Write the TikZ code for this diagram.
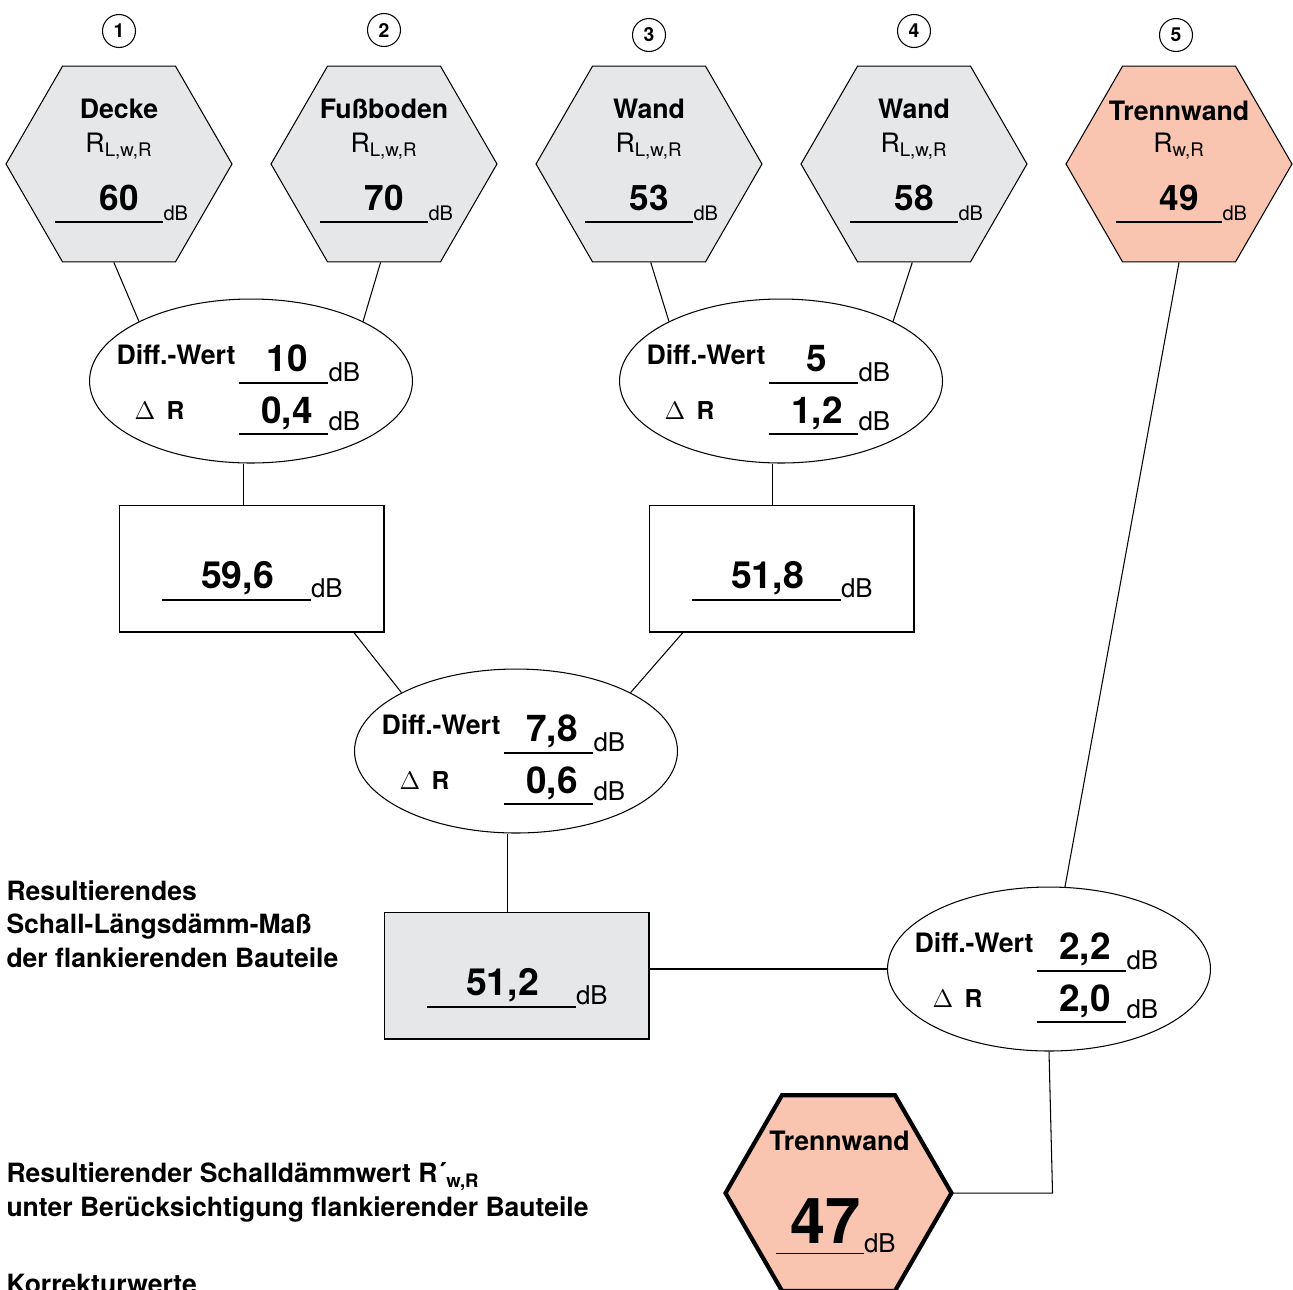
\documentclass[tikz,border=0pt]{standalone}
\usepackage{fontspec}
\setmainfont{TeX Gyre Heros}
\usetikzlibrary{shapes.geometric,calc}

\definecolor{hexgrau}{RGB}{230,231,232}
\definecolor{lachs}{RGB}{249,196,176}

\begin{document}
\begin{tikzpicture}[x=0.02cm,y=-0.02cm,line width=0.6pt,
 hex/.style={regular polygon,regular polygon sides=6,minimum size=4.52cm,
  inner sep=0pt,draw,fill=hexgrau},
 oval/.style={ellipse,minimum width=6.46cm,minimum height=3.28cm,inner sep=0pt,draw},
 kasten/.style={rectangle,minimum width=5.3cm,minimum height=2.54cm,inner sep=0pt,draw},
 nr/.style={circle,draw,minimum size=0.66cm,inner sep=0pt,
  font=\fontsize{11}{11}\selectfont\bfseries},
 titel/.style={anchor=base,inner sep=0pt,font=\fontsize{15.2}{15.2}\selectfont\bfseries},
 groesse/.style={anchor=base,inner sep=0pt,font=\fontsize{15.2}{15.2}\selectfont},
 wert/.style={anchor=base,inner sep=0pt,font=\fontsize{20}{20}\selectfont\bfseries},
 dwert/.style={anchor=base,inner sep=0pt,font=\fontsize{21}{21}\selectfont\bfseries},
 kwert/.style={anchor=base,inner sep=0pt,font=\fontsize{21.3}{21.3}\selectfont\bfseries},
 einheit/.style={anchor=base west,inner sep=0pt,font=\fontsize{11.4}{11.4}\selectfont},
 deinheit/.style={anchor=base west,inner sep=0pt,font=\fontsize{14.7}{14.7}\selectfont},
 marke/.style={anchor=base west,inner sep=0pt,font=\fontsize{15.2}{15.2}\selectfont\bfseries},
 dmarke/.style={anchor=base west,inner sep=0pt,font=\fontsize{14}{14}\selectfont\bfseries},
 notiz/.style={anchor=north west,inner sep=0pt,align=left,
  font=\fontsize{15.1}{19.1}\selectfont\bfseries}]
\useasboundingbox (0,0) rectangle (1293,1289);
\clip (0,0) rectangle (1293,1289);

% flankierende Bauteile
\foreach \X/\bt/\v/\px/\ny in {1/Decke/60/119/31,2/Fußboden/70/384/30,
  3/Wand/53/649/35,4/Wand/58/914/31}{
 \node[hex] (h\X) at (\px,164) {};
 \node[nr] (n\X) at (\px,\ny) {\X};
 \node[titel] (t\X) at ($(h\X)+(0,-46)$) {\bt};
 \node[groesse] (g\X) at ($(h\X)+(0,-12)$) {R\textsubscript{L,w,R}};
 \node[wert] (w\X) at ($(h\X)+(0,46)$) {\v};
 \node[einheit] (u\X) at ($(h\X)+(44,56)$) {dB};
 \draw ($(h\X)+(-64,58)$) -- ($(h\X)+(44,58)$);
}

% Trennwand
\node[hex,fill=lachs] (h5) at (1179,164) {};
\node[nr] (n5) at (1176,35) {5};
\node[titel] (t5) at ($(h5)+(0,-44)$) {Trennwand};
\node[groesse] (g5) at ($(h5)+(0,-12)$) {R\textsubscript{w,R}};
\node[wert] (w5) at ($(h5)+(0,46)$) {49};
\node[einheit] (u5) at ($(h5)+(43,56)$) {dB};
\draw ($(h5)+(-63,58)$) -- ($(h5)+(43,58)$);

% Differenzwerte
\foreach \E/\ex/\ey/\d/\r in {e1/251/381/10/{0,4},e2/781/381/5/{1,2},
  e3/516/751/{7,8}/{0,6},e4/1049/969/{2,2}/{2,0}}{
 \node[oval] (\E) at (\ex,\ey) {};
 \node[marke] (\E m) at ($(\E)+(-135,-17)$) {Diff.-Wert};
 \node[dmarke] (\E r) at ($(\E)+(-117,38)$) {{\fontsize{14}{14}\selectfont$\Delta$}\hspace{6.5pt}R};
 \node[dwert] (\E d) at ($(\E)+(36,-10)$) {\d};
 \node[dwert] (\E w) at ($(\E)+(36,42)$) {\r};
 \node[deinheit] (\E u) at ($(\E)+(77,0)$) {dB};
 \node[deinheit] (\E v) at ($(\E)+(77,49)$) {dB};
 \draw ($(\E)+(-12,2)$) -- ($(\E)+(77,2)$);
 \draw ($(\E)+(-12,53)$) -- ($(\E)+(77,53)$);
}

% Zwischenergebnisse
\foreach \B/\bx/\by/\v/\f in {b1/251.5/568.5/{59,6}/white,b2/781.5/568.5/{51,8}/white,
  b3/516.5/975.5/{51,2}/hexgrau}{
 \node[kasten,fill=\f] (\B) at (\bx,\by) {};
 \node[kwert] (\B w) at ($(\B)+(-14,19.5)$) {\v};
 \node[deinheit] (\B u) at ($(\B)+(59,28.5)$) {dB};
 \draw ($(\B)+(-89.5,31.5)$) -- ($(\B)+(59,31.5)$);
}

% Ergebnis
\node[hex,fill=lachs,line width=2.4pt] (h6) at (838.5,1193) {};
\node[titel] (t6) at ($(h6)+(1,-43)$) {Trennwand};
\node[wert,font=\fontsize{36}{36}\selectfont\bfseries] (w6) at ($(h6)+(-13,50)$) {47};
\node[deinheit] (u6) at ($(h6)+(25,59)$) {dB};
\draw ($(h6)+(-62.5,60)$) -- ($(h6)+(25,60)$);

% Verbindungen
\draw (h1.-93.5) -- (e1.152);
\draw (h2.-92) -- (e1.28);
\draw (h3.-89.5) -- (e2.152);
\draw (h4.-91) -- (e2.28);
\draw (h5.south) -- (e4.79);
\draw ([xshift=-4.5]e1.south) -- ([xshift=-4.5]e1.south |- b1.north);
\draw ([xshift=-5]e2.south) -- ([xshift=-5]e2.south |- b2.north);
\draw (b1.-32.5) -- (e3.153);
\draw (b2.213) -- (e3.27);
\draw ([xshift=-5]e3.south) -- ([xshift=-5]e3.south |- b3.north);
\draw (e4.west) -- (e4.west -| b3.east);
\draw (e4.south) -- ([xshift=2]e4.south |- h6.east) -- (h6.east);

% Beschriftungen links
\node[notiz] (s1) at (6,880) {Resultierendes\\Schall-Längsdämm-Maß\\der flankierenden Bauteile};
\node[notiz] (s2) at (6,1162) {Resultierender Schalldämmwert R´\textsubscript{w,R}\\
 unter Berücksichtigung flankierender Bauteile};
\node[notiz] (s3) at (6,1274) {Korrekturwerte};
\end{tikzpicture}
\end{document}
